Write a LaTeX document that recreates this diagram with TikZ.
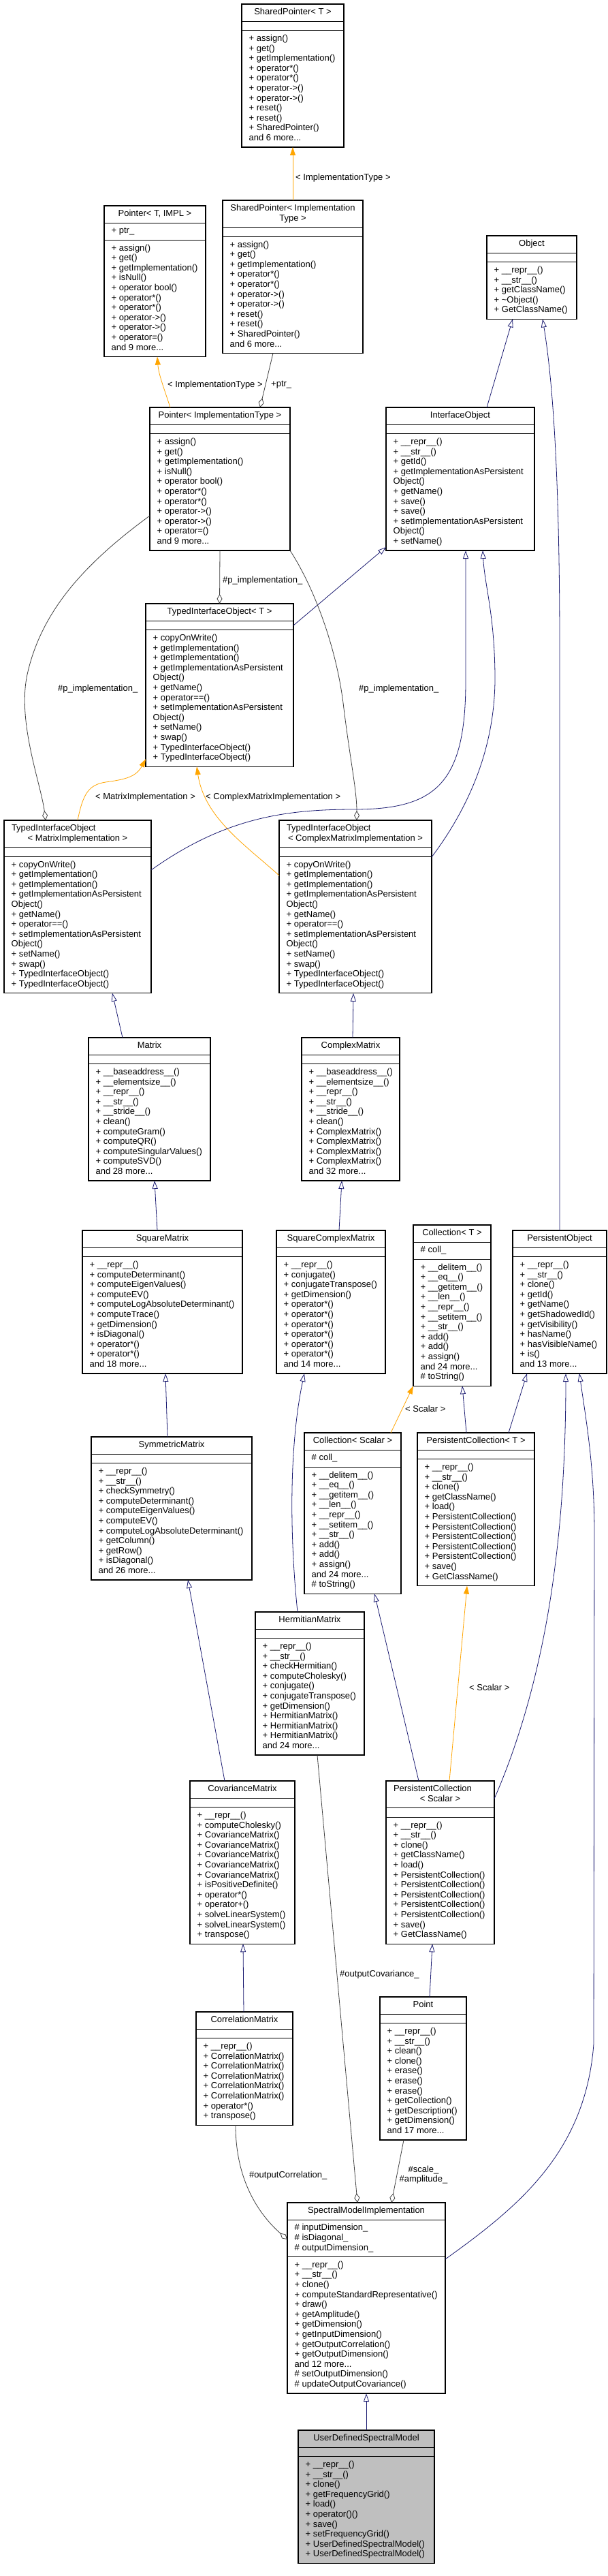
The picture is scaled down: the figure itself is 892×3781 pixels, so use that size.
\documentclass[tikz,border=0pt]{standalone}
\usepackage{fontspec}
\setmainfont{Liberation Sans}
\usetikzlibrary{arrows.meta}
\definecolor{edgeblue}{HTML}{191970}
\definecolor{edgegray}{HTML}{404040}
\definecolor{edgeorange}{HTML}{FFA500}
\definecolor{focusfill}{HTML}{BFBFBF}
\newcommand\umlfont{\fontsize{13}{14.6}\selectfont}
\newsavebox\umlTbox \newsavebox\umlAbox \newsavebox\umlMbox
\newdimen\umlL
\tikzset{
  classbox/.style={draw=black, line width=1.2pt, anchor=north west, inner sep=0pt, outer sep=0pt},
  classline/.style={draw=black, line width=1.2pt},
  classtext/.style={inner sep=0pt, font=\umlfont},
  inherit/.style={draw=edgeblue, line width=0.8pt, -{Triangle[open, length=12pt, width=8pt]}},
  tmpl/.style={draw=edgeorange, line width=0.8pt, -{Triangle[length=12pt, width=8pt, fill=edgeorange]}},
  usage/.style={draw=edgegray, line width=0.8pt, -{Diamond[open, length=14pt, width=8pt]}},
  elabel/.style={font=\umlfont, inner sep=0pt, anchor=west}
}
\newcommand\umlclass[8][white]{%
  \sbox\umlTbox{\umlfont\begin{tabular}{@{}c@{}}#6\end{tabular}}%
  \sbox\umlAbox{\umlfont\begin{tabular}{@{}l@{}}#7\end{tabular}}%
  \sbox\umlMbox{\umlfont\begin{tabular}{@{}l@{}}#8\end{tabular}}%
  \umlL=\ht\umlTbox \advance\umlL by \dp\umlTbox
  \pgfmathsetmacro\umlhT{\umlL+10.6}%
  \umlL=\ht\umlAbox \advance\umlL by \dp\umlAbox
  \pgfmathsetmacro\umlhA{\umlL+10.6}%
  \umlL=\ht\umlMbox \advance\umlL by \dp\umlMbox
  \pgfmathsetmacro\umlhM{\umlL+10.6}%
  \pgfmathsetmacro\umlyA{#5+\umlhT}%
  \pgfmathsetmacro\umlyB{\umlyA+\umlhA}%
  \pgfmathsetmacro\umlyC{\umlyB+\umlhM}%
  \pgfmathsetmacro\umlw{#4-#3}%
  \pgfmathsetmacro\umlh{\umlyC-#5}%
  \pgfmathsetmacro\umlxc{(#3+#4)/2}%
  \pgfmathsetmacro\umlyt{#5+\umlhT/2}%
  \node[classbox, fill=#1, minimum width=\umlw pt, minimum height=\umlh pt] (#2) at (#3,#5) {};
  \draw[classline] (#3,\umlyA) -- (#4,\umlyA);
  \draw[classline] (#3,\umlyB) -- (#4,\umlyB);
  \node[classtext] (#2-title) at (\umlxc,\umlyt) {\begin{tabular}{@{}c@{}}#6\end{tabular}};
  \node[classtext, anchor=north west] (#2-attr) at (#3+10.5,\umlyA+5.3) {\begin{tabular}{@{}l@{}}#7\end{tabular}};
  \node[classtext, anchor=north west] (#2-ops) at (#3+10.5,\umlyB+5.3) {\begin{tabular}{@{}l@{}}#8\end{tabular}};
}
\newcommand\SPops{+ assign()\\+ get()\\+ getImplementation()\\+ operator*()\\+ operator*()\\+ operator->()\\+ operator->()\\+ reset()\\+ reset()\\+ SharedPointer()\\and 6 more...}
\newcommand\PTops{+ assign()\\+ get()\\+ getImplementation()\\+ isNull()\\+ operator bool()\\+ operator*()\\+ operator*()\\+ operator->()\\+ operator->()\\+ operator=()\\and 9 more...}
\newcommand\TIOops{+ copyOnWrite()\\+ getImplementation()\\+ getImplementation()\\+ getImplementationAsPersistent\\Object()\\+ getName()\\+ operator==()\\+ setImplementationAsPersistent\\Object()\\+ setName()\\+ swap()\\+ TypedInterfaceObject()\\+ TypedInterfaceObject()}
\newcommand\COLops{+ \_\_delitem\_\_()\\+ \_\_eq\_\_()\\+ \_\_getitem\_\_()\\+ \_\_len\_\_()\\+ \_\_repr\_\_()\\+ \_\_setitem\_\_()\\+ \_\_str\_\_()\\+ add()\\+ add()\\+ assign()\\and 24 more...\\\# toString()}
\newcommand\PCops{+ \_\_repr\_\_()\\+ \_\_str\_\_()\\+ clone()\\+ getClassName()\\+ load()\\+ PersistentCollection()\\+ PersistentCollection()\\+ PersistentCollection()\\+ PersistentCollection()\\+ PersistentCollection()\\+ save()\\+ GetClassName()}
\begin{document}
\begin{tikzpicture}[x=1pt, y=-1pt]
\fill[white] (0,0) rectangle (892,3781);
\useasboundingbox (0,0) rectangle (892,3781);

\umlclass{SPT}{355}{505}{6}{SharedPointer< T >}{}{\SPops}
\umlclass{SPI}{327}{533}{294}{SharedPointer< Implementation\\Type >}{}{\SPops}
\umlclass{PTI}{153}{302}{302}{Pointer< T, IMPL >}{+ ptr\_}{\PTops}
\umlclass{OBJ}{715}{847}{346}{Object}{}{+ \_\_repr\_\_()\\+ \_\_str\_\_()\\+ getClassName()\\+ \textasciitilde Object()\\+ GetClassName()}
\umlclass{PIT}{220}{426}{598}{Pointer< ImplementationType >}{}{\PTops}
\umlclass{IOB}{567}{785}{598}{InterfaceObject}{}{+ \_\_repr\_\_()\\+ \_\_str\_\_()\\+ getId()\\+ getImplementationAsPersistent\\Object()\\+ getName()\\+ save()\\+ save()\\+ setImplementationAsPersistent\\Object()\\+ setName()}
\umlclass{TIO}{214}{431}{886}{TypedInterfaceObject< T >}{}{\TIOops}
\umlclass{TIM}{6}{222}{1204}{\makebox[194pt][l]{TypedInterfaceObject}\\< MatrixImplementation >}{}{\TIOops}
\umlclass{TIC}{410}{634}{1204}{\makebox[202pt][l]{TypedInterfaceObject}\\< ComplexMatrixImplementation >}{}{\TIOops}
\umlclass{MAT}{130}{309}{1523}{Matrix}{}{+ \_\_baseaddress\_\_()\\+ \_\_elementsize\_\_()\\+ \_\_repr\_\_()\\+ \_\_str\_\_()\\+ \_\_stride\_\_()\\+ clean()\\+ computeGram()\\+ computeQR()\\+ computeSingularValues()\\+ computeSVD()\\and 28 more...}
\umlclass{CMX}{443}{587}{1523}{ComplexMatrix}{}{+ \_\_baseaddress\_\_()\\+ \_\_elementsize\_\_()\\+ \_\_repr\_\_()\\+ \_\_str\_\_()\\+ \_\_stride\_\_()\\+ clean()\\+ ComplexMatrix()\\+ ComplexMatrix()\\+ ComplexMatrix()\\+ ComplexMatrix()\\and 32 more...}
\umlclass{SQM}{121}{356}{1806}{SquareMatrix}{}{+ \_\_repr\_\_()\\+ computeDeterminant()\\+ computeEigenValues()\\+ computeEV()\\+ computeLogAbsoluteDeterminant()\\+ computeTrace()\\+ getDimension()\\+ isDiagonal()\\+ operator*()\\+ operator*()\\and 18 more...}
\umlclass{SCM}{406}{566}{1806}{SquareComplexMatrix}{}{+ \_\_repr\_\_()\\+ conjugate()\\+ conjugateTranspose()\\+ getDimension()\\+ operator*()\\+ operator*()\\+ operator*()\\+ operator*()\\+ operator*()\\+ operator*()\\and 14 more...}
\umlclass{COT}{607}{721}{1798}{Collection< T >}{\# coll\_}{\COLops}
\umlclass{POB}{753}{891}{1806}{PersistentObject}{}{+ \_\_repr\_\_()\\+ \_\_str\_\_()\\+ clone()\\+ getId()\\+ getName()\\+ getShadowedId()\\+ getVisibility()\\+ hasName()\\+ hasVisibleName()\\+ is()\\and 13 more...}
\umlclass{SYM}{134}{370}{2109}{SymmetricMatrix}{}{+ \_\_repr\_\_()\\+ \_\_str\_\_()\\+ checkSymmetry()\\+ computeDeterminant()\\+ computeEigenValues()\\+ computeEV()\\+ computeLogAbsoluteDeterminant()\\+ getColumn()\\+ getRow()\\+ isDiagonal()\\and 26 more...}
\umlclass{COS}{447}{589}{2103}{Collection< Scalar >}{\# coll\_}{\COLops}
\umlclass{PCT}{613}{785}{2103}{PersistentCollection< T >}{}{\PCops}
\umlclass{HEM}{375}{535}{2366}{HermitianMatrix}{}{+ \_\_repr\_\_()\\+ \_\_str\_\_()\\+ checkHermitian()\\+ computeCholesky()\\+ conjugate()\\+ conjugateTranspose()\\+ getDimension()\\+ HermitianMatrix()\\+ HermitianMatrix()\\+ HermitianMatrix()\\and 24 more...}
\umlclass{COV}{279}{433}{2614}{CovarianceMatrix}{}{+ \_\_repr\_\_()\\+ computeCholesky()\\+ CovarianceMatrix()\\+ CovarianceMatrix()\\+ CovarianceMatrix()\\+ CovarianceMatrix()\\+ CovarianceMatrix()\\+ isPositiveDefinite()\\+ operator*()\\+ operator+()\\+ solveLinearSystem()\\+ solveLinearSystem()\\+ transpose()}
\umlclass{PCS}{567}{726}{2614}{\makebox[137pt][l]{PersistentCollection}\\< Scalar >}{}{\PCops}
\umlclass{COR}{288}{430}{2953}{CorrelationMatrix}{}{+ \_\_repr\_\_()\\+ CorrelationMatrix()\\+ CorrelationMatrix()\\+ CorrelationMatrix()\\+ CorrelationMatrix()\\+ CorrelationMatrix()\\+ operator*()\\+ transpose()}
\umlclass{PNT}{558}{685}{2931}{Point}{}{+ \_\_repr\_\_()\\+ \_\_str\_\_()\\+ clean()\\+ clone()\\+ erase()\\+ erase()\\+ erase()\\+ getCollection()\\+ getDescription()\\+ getDimension()\\and 17 more...}
\umlclass{SMI}{422}{654}{3233}{SpectralModelImplementation}{\# inputDimension\_\\\# isDiagonal\_\\\# outputDimension\_}{+ \_\_repr\_\_()\\+ \_\_str\_\_()\\+ clone()\\+ computeStandardRepresentative()\\+ draw()\\+ getAmplitude()\\+ getDimension()\\+ getInputDimension()\\+ getOutputCorrelation()\\+ getOutputDimension()\\and 12 more...\\\# setOutputDimension()\\\# updateOutputCovariance()}
\umlclass[focusfill]{UDS}{438}{638}{3567}{UserDefinedSpectralModel}{}{+ \_\_repr\_\_()\\+ \_\_str\_\_()\\+ clone()\\+ getFrequencyGrid()\\+ load()\\+ operator()()\\+ save()\\+ setFrequencyGrid()\\+ UserDefinedSpectralModel()\\+ UserDefinedSpectralModel()}

% edges
\draw[tmpl] ([xshift=103pt]SPI.north west) -- ([xshift=75pt]SPT.south west);
\draw[tmpl] ([xshift=30pt]PIT.north west) .. controls (241,570) and (233,550) .. ([xshift=78pt]PTI.south west);
\draw[usage] ([xshift=74pt]SPI.south west) -- ([xshift=162pt]PIT.north west);
\draw[inherit] ([xshift=148pt]IOB.north west) -- ([xshift=38pt]OBJ.south west);
\draw[inherit] ([xshift=69pt]POB.north west) -- (822,950) .. controls (822,700) and (812,560) .. ([xshift=82pt]OBJ.south west);
\draw[usage] (PIT.south) -- (TIO.north);
\draw[inherit] ([yshift=-32pt]TIO.north east) -- ([yshift=-205pt]IOB.north west);
\draw[usage] ([yshift=-159pt]PIT.north west) .. controls (120,830) and (60,900) .. (40,990) .. controls (25,1060) and (60,1150) .. ([xshift=61pt]TIM.north west);
\draw[usage] ([yshift=-210pt]PIT.north east) .. controls (460,860) and (495,950) .. (505,1040) .. controls (515,1120) and (524,1160) .. ([xshift=114pt]TIC.north west);
\draw[tmpl] (TIM.north) .. controls (122,1165) and (130,1152) .. (155,1148) .. controls (185,1144) and (200,1140) .. ([yshift=11pt]TIO.south west);
\draw[tmpl] ([yshift=-81pt]TIC.north west) .. controls (360,1240) and (300,1200) .. ([xshift=75pt]TIO.south west);
\draw[inherit] ([yshift=-73pt]TIM.north east) .. controls (330,1200) and (420,1188) .. (520,1188) .. controls (640,1188) and (684,1150) .. (684,1000) -- ([xshift=117pt]IOB.south west);
\draw[inherit] ([yshift=-54pt]TIC.north east) .. controls (700,1170) and (728,1080) .. (727,990) .. controls (726,900) and (712,860) .. ([xshift=142pt]IOB.south west);
\draw[inherit] ([xshift=50pt]MAT.north west) -- ([xshift=159pt]TIM.south west);
\draw[inherit] ([xshift=75pt]CMX.north west) -- ([xshift=109pt]TIC.south west);
\draw[inherit] ([xshift=110pt]SQM.north west) -- ([xshift=97pt]MAT.south west);
\draw[inherit] ([xshift=92pt]SCM.north west) -- ([xshift=59pt]CMX.south west);
\draw[inherit] ([xshift=112pt]SYM.north west) -- ([xshift=122pt]SQM.south west);
\draw[tmpl] ([xshift=127pt]COS.north west) -- (COT.south west);
\draw[inherit] ([xshift=72pt]PCT.north west) -- ([xshift=72pt]COT.south west);
\draw[inherit] ([xshift=134pt]PCT.north west) -- ([xshift=21pt]POB.south west);
\draw[inherit] ([xshift=62pt]HEM.north west) .. controls (425,2250) and (425,2120) .. ([xshift=41pt]SCM.south west);
\draw[inherit] ([xshift=51pt]COV.north west) -- ([xshift=142pt]SYM.south west);
\draw[inherit] ([xshift=48pt]PCS.north west) -- ([xshift=103pt]COS.south west);
\draw[tmpl] ([xshift=93pt]PCS.north west) -- ([xshift=73pt]PCT.south west);
\draw[inherit] ([yshift=-26pt]PCS.north east) .. controls (770,2540) and (800,2420) .. (815,2300) .. controls (828,2200) and (831,2100) .. ([xshift=78pt]POB.south west);
\draw[inherit] ([yshift=-83pt]SMI.north east) .. controls (760,3240) and (860,3160) .. (872,3000) -- (873,2250) .. controls (873,2150) and (860,2080) .. ([xshift=98pt]POB.south west);
\draw[inherit] ([xshift=70pt]COR.north west) -- ([xshift=78pt]COV.south west);
\draw[inherit] ([xshift=73pt]PNT.north west) -- ([xshift=68pt]PCS.south west);
\draw[usage] ([xshift=58pt]COR.south west) .. controls (346,3200) and (380,3250) .. ([yshift=-54pt]SMI.north west);
\draw[usage] ([xshift=91pt]HEM.south west) -- ([xshift=103pt]SMI.north west);
\draw[usage] ([xshift=35pt]PNT.south west) -- ([xshift=153pt]SMI.north west);
\draw[inherit] (UDS.north) -- (SMI.south);

% edge labels
\node[elabel] (l1) at (434,261) {< ImplementationType >};
\node[elabel] (l2) at (246,565) {< ImplementationType >};
\node[elabel] (l3) at (398,565) {+ptr\_};
\node[elabel] (l4) at (327,852) {\#p\_implementation\_};
\node[elabel] (l5) at (85,1011) {\#p\_implementation\_};
\node[elabel] (l6) at (527,1011) {\#p\_implementation\_};
\node[elabel] (l7) at (140,1170) {< MatrixImplementation >};
\node[elabel] (l8) at (302,1170) {< ComplexMatrixImplementation >};
\node[elabel] (l9) at (595,2068) {< Scalar >};
\node[elabel] (l10) at (689,2477) {< Scalar >};
\node[elabel] (l11) at (499,2898) {\#outputCovariance\_};
\node[elabel] (l12) at (366,3193) {\#outputCorrelation\_};
\node[font=\umlfont, inner sep=0pt, align=center] (l13) at (622,3192) {\#scale\_\\\#amplitude\_};
\end{tikzpicture}
\end{document}
